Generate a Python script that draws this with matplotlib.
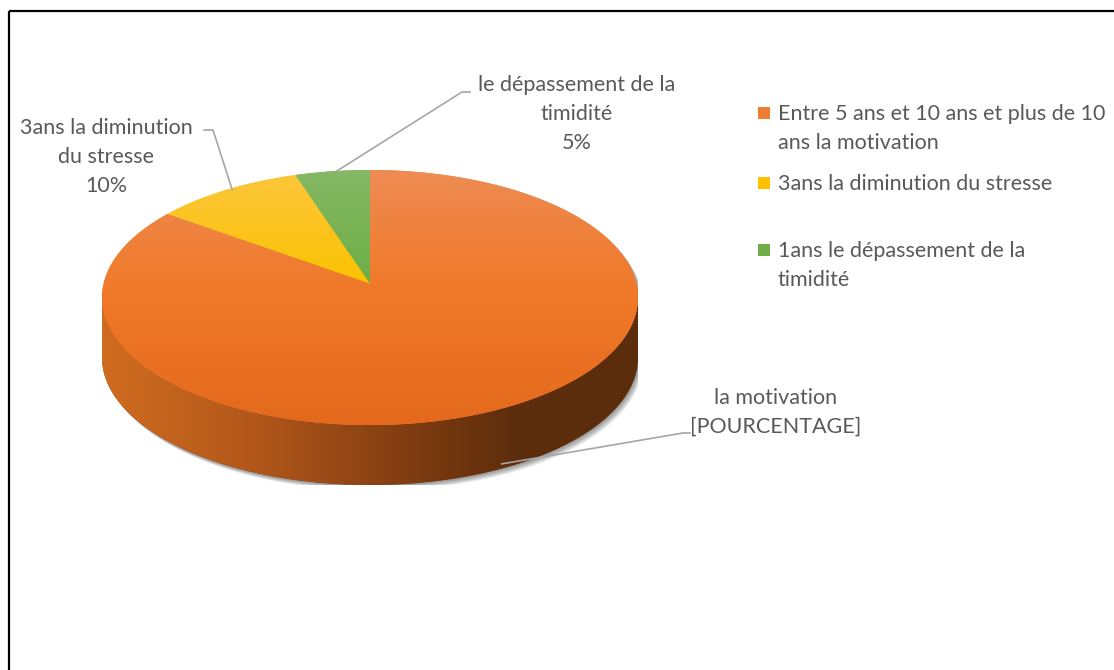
import numpy as np
import matplotlib.pyplot as plt
from matplotlib.colors import LinearSegmentedColormap
from matplotlib.path import Path
from matplotlib.patches import PathPatch, Rectangle

# data
values = [85, 10, 5]
legend_labels = [
    "Entre 5 ans et 10 ans et plus de 10\nans la motivation",
    "3ans la diminution du stresse",
    "1ans le dépassement de la\ntimidité",
]
data_labels = [
    "la motivation\n[POURCENTAGE]",
    "3ans la diminution\ndu stresse\n10%",
    "le dépassement de la\ntimidité\n5%",
]
top_colors = [("#ee8c55", "#f07a2a", "#e4691c"),
              ("#fcc63e", "#fbc200", "#e9b400"),
              ("#86b866", "#6daf44", "#5e9f36")]
legend_colors = ["#ed7d31", "#ffc000", "#70ad47"]

TXT = "#595959"
FONT = "Lato"
FS = 15.5
LS = 1.55
W, H = 1114, 670
DEPTH = 0.47   # side height in units of the vertical radius
PERSP = 0.11   # how far the pie centre is lifted by the perspective


def persp(xy):
    # projective map keeping the unit circle, moves the centre to (0, PERSP)
    x, y = xy[:, 0], xy[:, 1]
    d = 1 + PERSP * y
    return np.column_stack([x * np.sqrt(1 - PERSP ** 2) / d, (y + PERSP) / d])


fig = plt.figure(figsize=(W / 100, H / 100), dpi=100)

# pie axes, unit circle squashed to an ellipse
px_l, px_r, px_t, px_b = 102, 638, 170, 485
ax = fig.add_axes([px_l / W, 1 - px_b / H, (px_r - px_l) / W, (px_b - px_t) / H])
wedges, _ = ax.pie(values, colors=legend_colors, startangle=90, counterclock=False,
                   radius=1, center=(0, 0), wedgeprops=dict(linewidth=0))

# overlay for labels, leader lines, legend and frame
bg = fig.add_axes([0, 0, 1, 1])
bg.set_xlim(0, W)
bg.set_ylim(H, 0)
bg.axis("off")

# soft shadow of the whole disc
t1 = np.linspace(0, np.pi, 200)
t2 = np.linspace(np.pi, 2 * np.pi, 200)
sil = np.vstack([np.column_stack([np.cos(t1), np.sin(t1)]),
                 np.column_stack([np.cos(t2), np.sin(t2) - DEPTH])])
ux = 2 / (px_r - px_l)
uy = (2 + DEPTH) / (px_b - px_t)
for k in range(1, 7):
    ax.add_patch(PathPatch(Path(sil + [k * 0.8 * ux, -k * 0.9 * uy]),
                           facecolor="#000000", alpha=0.08, lw=0, zorder=0))

# side band (front half, belongs to the big slice)
side = np.vstack([np.column_stack([np.cos(t2), np.sin(t2)]),
                  np.column_stack([np.cos(t2[::-1]), np.sin(t2[::-1]) - DEPTH])])
side_patch = PathPatch(Path(side), facecolor="#8a4210", lw=0, zorder=1)
ax.add_patch(side_patch)
side_cmap = LinearSegmentedColormap.from_list(
    "side", [(0, "#d06c20"), (0.3, "#b0561a"), (0.6, "#7a3a10"), (0.78, "#5c2d0c"), (1, "#5c2d0c")])
im = ax.imshow(np.linspace(0, 1, 256)[None, :], cmap=side_cmap, aspect="auto",
               extent=(-1, 1, -1 - DEPTH, 0), zorder=2)
im.set_clip_path(side_patch)

# top faces in perspective, with a vertical gradient
for w, (c0, c1, c2) in zip(wedges, top_colors):
    th = np.deg2rad(np.linspace(w.theta1, w.theta2, 300))
    cx, cy = w.center
    arc = np.column_stack([cx + w.r * np.cos(th), cy + w.r * np.sin(th)])
    verts = persp(np.vstack([[cx, cy], arc, [cx, cy]]))
    face = PathPatch(Path(verts), facecolor=c1, lw=0, zorder=3)
    ax.add_patch(face)
    w.set_visible(False)
    cm = LinearSegmentedColormap.from_list("g", [(0, c0), (0.45, c1), (1, c2)])
    g = ax.imshow(np.linspace(0, 1, 256)[:, None], cmap=cm, aspect="auto",
                  extent=(-1, 1, -1, 1), zorder=4)
    g.set_clip_path(face)

ax.set_aspect("auto")
ax.set_xlim(-1, 1)
ax.set_ylim(-1 - DEPTH, 1)
ax.axis("off")


def to_px(x, y):
    dx, dy = ax.transData.transform((x, y))
    return dx, H - dy


# mid angle of each slice
angles = []
start = 90.0
for v in values:
    span = 360 * v / sum(values)
    angles.append(np.deg2rad(start - span / 2))
    start -= span

line_kw = dict(color="#a6a6a6", lw=1.2)
text_kw = dict(ha="center", va="center", fontsize=FS, color=TXT, family=FONT, linespacing=LS)

# big slice: anchor near the bottom of the side band
m = angles[0]
ax0, ay0 = to_px(np.cos(m), np.sin(m) - 0.88 * DEPTH)
bg.plot([ax0 + 10, 683, 690], [ay0, 433, 433], **line_kw)
bg.text(776, 412, data_labels[0], **text_kw)

m = angles[1]
e = persp(np.array([[np.cos(m), np.sin(m)]]))[0]
ax1, ay1 = to_px(*e)
bg.plot([ax1 + 6, 213, 204], [ay1, 130, 130], **line_kw)
bg.text(106, 157, data_labels[1], **text_kw)

m = angles[2]
e = persp(np.array([[np.cos(m), np.sin(m)]]))[0]
ax2, ay2 = to_px(*e)
bg.plot([ax2 + 4, 462, 470], [ay2, 92, 92], **line_kw)
bg.text(577, 114, data_labels[2], **text_kw)

# legend
leg_y = [113, 183, 250]
for lab, col, y in zip(legend_labels, legend_colors, leg_y):
    bg.add_patch(Rectangle((758, y - 6), 12, 12, facecolor=col, lw=0))
    bg.text(778, y - 9, lab, ha="left", va="top", fontsize=FS,
            color=TXT, family=FONT, linespacing=LS)

# chart frame (cut by the image edges)
bg.add_patch(Rectangle((8.5, 11), W + 20, H + 20, fill=False, edgecolor="black", lw=1.6))

fig.savefig("out.png", dpi=100)
